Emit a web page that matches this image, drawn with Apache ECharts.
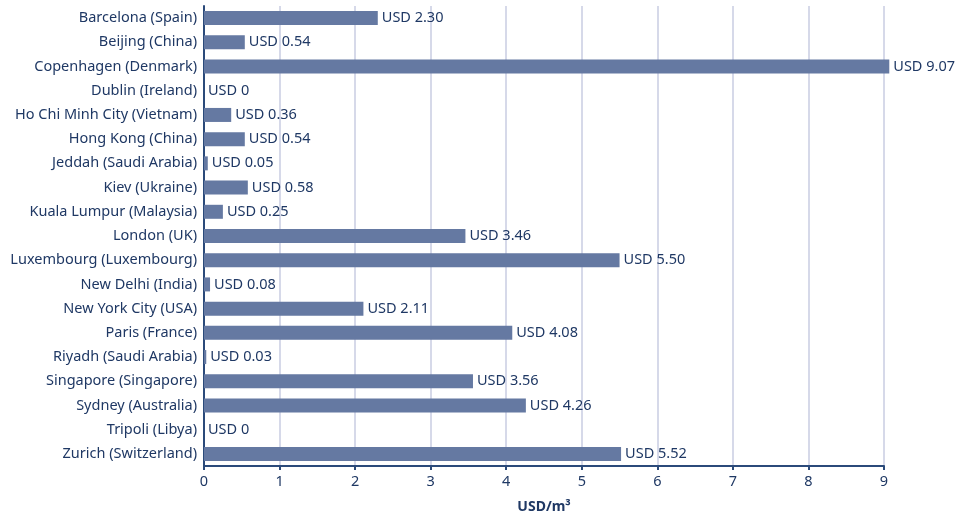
<!DOCTYPE html>
<html>
<head>
<meta charset="utf-8">
<script src="https://cdn.jsdelivr.net/npm/echarts@6/dist/echarts.min.js"></script>
<style>
  html, body { margin: 0; padding: 0; background: #fff; }
  #chart { width: 960px; height: 515px; }
</style>
</head>
<body>
<div id="chart"></div>
<script>
// cities, top to bottom
var cities = [
	'Barcelona (Spain)', 'Beijing (China)', 'Copenhagen (Denmark)', 'Dublin (Ireland)',
	'Ho Chi Minh City (Vietnam)', 'Hong Kong (China)', 'Jeddah (Saudi Arabia)', 'Kiev (Ukraine)',
	'Kuala Lumpur (Malaysia)', 'London (UK)', 'Luxembourg (Luxembourg)', 'New Delhi (India)',
	'New York City (USA)', 'Paris (France)', 'Riyadh (Saudi Arabia)', 'Singapore (Singapore)',
	'Sydney (Australia)', 'Tripoli (Libya)', 'Zurich (Switzerland)'
];
// price per m3 in USD
var prices = [2.30, 0.54, 9.07, 0, 0.36, 0.54, 0.05, 0.58, 0.25, 3.46, 5.50, 0.08, 2.11, 4.08, 0.03, 3.56, 4.26, 0, 5.52];
var xTicks = [0, 1, 2, 3, 4, 5, 6, 7, 8, 9];

var textColor = '#1f3864';
var fontFamily = 'Noto Sans';

var chart = echarts.init(document.getElementById('chart'));
chart.setOption({
	animation: false,
	textStyle: { fontFamily: fontFamily },
	grid: { left: 204, right: 76, top: 6, bottom: 49, outerBoundsMode: 'none', containLabel: false },
	xAxis: {
		type: 'value',
		min: xTicks[0],
		max: xTicks[xTicks.length - 1],
		interval: 1,
		name: 'USD/m³',
		nameLocation: 'middle',
		nameGap: 34,
		nameTextStyle: { color: textColor, fontSize: 14, fontWeight: 'bold', fontFamily: fontFamily },
		axisLine: { show: true, lineStyle: { color: '#2b4a7a', width: 2 } },
		axisTick: { show: true, length: 4, lineStyle: { color: '#2b4a7a', width: 2 } },
		axisLabel: { color: textColor, fontSize: 14.5, margin: 8, fontFamily: fontFamily },
		splitLine: { show: true, lineStyle: { color: '#c9cde2', width: 1.5 } }
	},
	yAxis: {
		type: 'category',
		inverse: true,
		data: cities,
		axisLine: { show: true, lineStyle: { color: '#2b4a7a', width: 2 } },
		axisTick: { show: false },
		axisLabel: { color: textColor, fontSize: 14.5, margin: 7, fontFamily: fontFamily },
		splitLine: { show: false }
	},
	series: [{
		type: 'bar',
		data: prices,
		barWidth: 14,
		clip: false,
		itemStyle: { color: '#6579a2' },
		label: {
			show: true,
			position: 'right',
			distance: 4,
			color: textColor,
			fontSize: 14.5,
			fontFamily: fontFamily,
			formatter: function (p) {
				return p.value === 0 ? 'USD 0' : 'USD ' + p.value.toFixed(2);
			}
		}
	}]
});
</script>
</body>
</html>
